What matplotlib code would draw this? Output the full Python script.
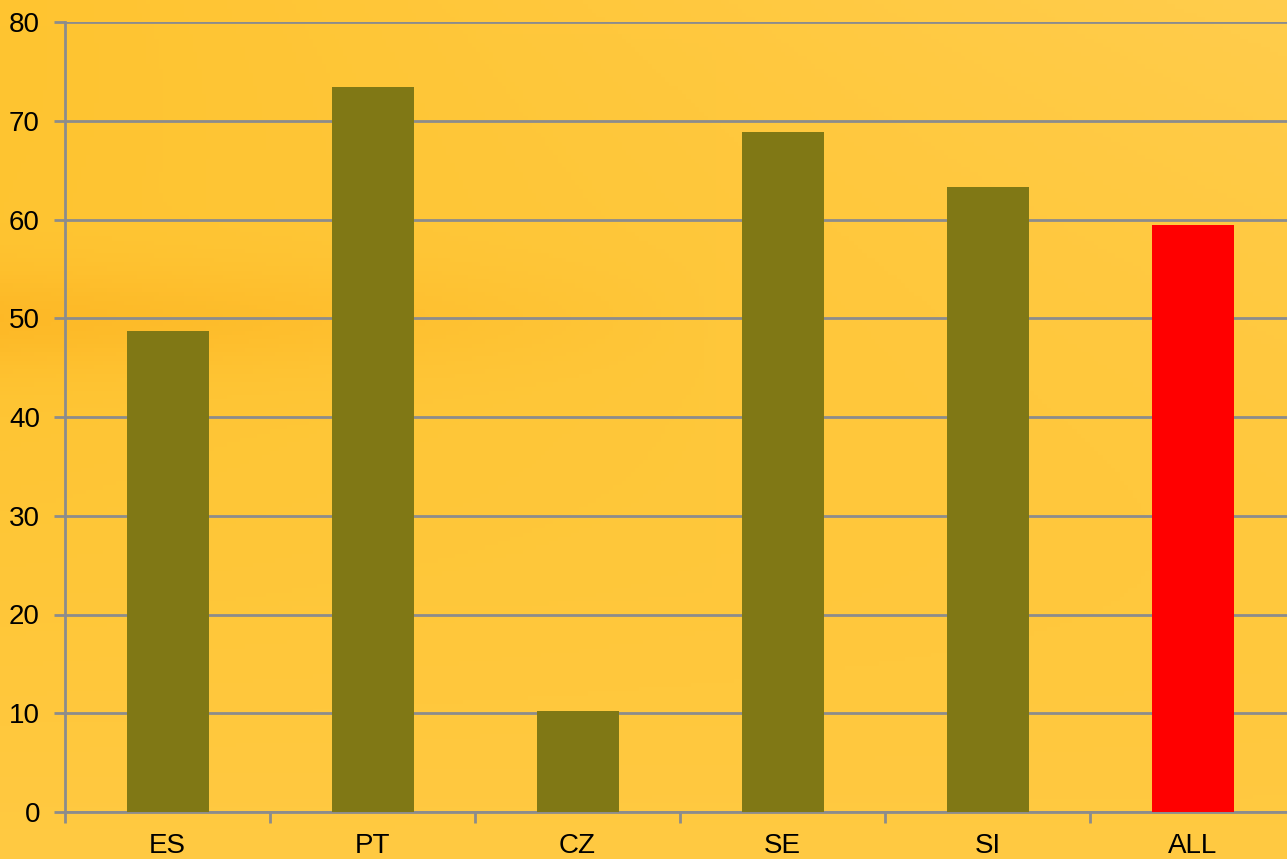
import numpy as np
import matplotlib
matplotlib.use("Agg")
import matplotlib.pyplot as plt

categories = ["ES", "PT", "CZ", "SE", "SI", "ALL"]
values = [48.7, 73.4, 10.2, 68.9, 63.3, 59.4]
bar_colors = ["#807815", "#807815", "#807815", "#807815", "#807815", "#FF0000"]
yticks = [0, 10, 20, 30, 40, 50, 60, 70, 80]

plt.rcParams['font.family'] = ['Liberation Sans', 'DejaVu Sans']

fig = plt.figure(figsize=(12.87, 8.59), dpi=100)

# warm yellow/orange backdrop
bg = fig.add_axes([0, 0, 1, 1], zorder=-10)
h, w = 200, 300
yy, xx = np.mgrid[0:1:h * 1j, 0:1:w * 1j]
base = np.array([255, 196, 48]) / 255.0
light = np.array([255, 212, 100]) / 255.0
dark = np.array([253, 182, 36]) / 255.0
t = np.clip(0.55 * xx * (1 - yy) ** 1.5 + 0.35 * yy ** 2, 0, 1)
img = base + (light - base) * t[..., None]
d = 0.8 * np.exp(-((yy - 0.37) / 0.06) ** 2) * np.clip(1 - xx * 1.8, 0, 1)
img = img + (dark - img) * d[..., None]
bg.imshow(np.clip(img, 0, 1), aspect="auto", extent=[0, 1, 0, 1])
bg.axis("off")

ax = fig.add_axes([65 / 1287, 47 / 859, 1230 / 1287, 790 / 859])
ax.patch.set_alpha(0)
x = np.arange(len(categories))
ax.bar(x, values, width=0.4, color=bar_colors, zorder=3)

ax.set_xlim(-0.5, len(categories) - 0.5)
ax.set_ylim(0, 80)
ax.set_yticks(yticks)
ax.yaxis.grid(True, color="#8C8C8C", linewidth=2, zorder=1)
ax.set_axisbelow(True)

ax.set_xticks(x)
ax.set_xticklabels(categories)
ax.set_xticks(np.arange(-0.5, len(categories), 1), minor=True)
ax.tick_params(axis="x", which="major", length=0, pad=15, labelsize=20)
ax.tick_params(axis="x", which="minor", length=8, width=2, color="#8C8C8C", direction="out")
ax.tick_params(axis="y", length=8, width=2, color="#8C8C8C", labelsize=20, pad=10)

for side in ["top", "right"]:
    ax.spines[side].set_visible(False)
for side in ["left", "bottom"]:
    ax.spines[side].set_color("#8C8C8C")
    ax.spines[side].set_linewidth(2)

fig.savefig("out.png", dpi=100)
